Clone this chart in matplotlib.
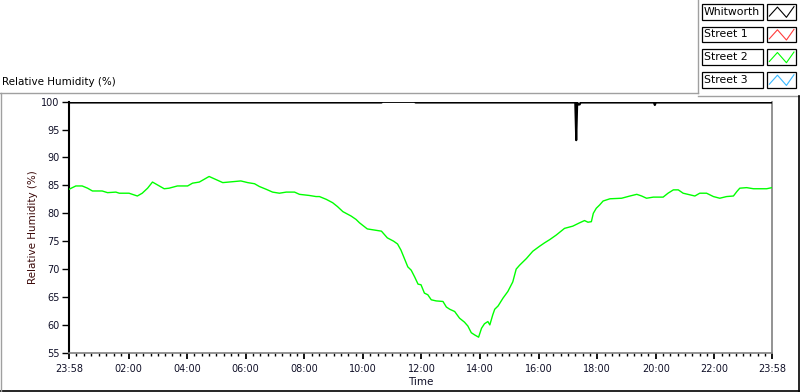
import matplotlib
matplotlib.use("Agg")
import matplotlib.pyplot as plt
from matplotlib.lines import Line2D
from matplotlib.patches import Rectangle
import numpy as np

plt.rcParams['font.family'] = ['DejaVu Sans']

# ---------------- data ----------------
# time axis: minutes elapsed since 23:58 (previous day)
tick_minutes = [0, 122, 242, 362, 482, 602, 722, 842, 962, 1082, 1202, 1322, 1440]
tick_labels = ["23:58", "02:00", "04:00", "06:00", "08:00", "10:00", "12:00",
               "14:00", "16:00", "18:00", "20:00", "22:00", "23:58"]

series_names = ["Whitworth", "Street 1", "Street 2", "Street 3"]
series_colors = ["#000000", "#ff3c3c", "#00ff00", "#38b8ff"]

whitworth_t = [0, 640, 642, 708, 710, 1037, 1039, 1041, 1043, 1046, 1048,
               1198, 1200, 1202, 1440]
whitworth_rh = [99.85, 99.85, 99.97, 99.97, 99.85, 99.85, 93.1, 99.85, 99.5, 99.5, 99.85,
                99.85, 99.4, 99.85, 99.85]

street1_t = []
street1_rh = []

street2_t = [0, 14, 27, 38, 48, 68, 79, 96, 103, 123, 140, 150, 161, 171, 181,
             195, 205, 222, 243, 253, 267, 277, 287, 297, 315, 328, 352, 366,
             380, 390, 404, 417, 431, 445, 462, 472, 492, 506, 513, 527, 540,
             550, 561, 578, 588, 595, 611, 626, 640, 652, 665, 673, 680, 687,
             694, 701, 708, 715, 721, 728, 735, 742, 752, 766, 773, 780, 790,
             800, 810, 817, 824, 831, 839, 845, 851, 858, 862, 868, 872, 879,
             889, 899, 909, 916, 923, 937, 950, 964, 974, 985, 998, 1015, 1032,
             1046, 1056, 1063, 1070, 1074, 1080, 1087, 1094, 1108, 1132, 1149,
             1163, 1173, 1183, 1197, 1217, 1227, 1238, 1248, 1258, 1272, 1282,
             1292, 1306, 1320, 1333, 1347, 1361, 1368, 1374, 1388, 1402, 1415,
             1429, 1440]
street2_rh = [84.3, 84.9, 84.9, 84.5, 84.0, 84.0, 83.7, 83.8, 83.6, 83.6, 83.1,
              83.6, 84.5, 85.6, 85.1, 84.4, 84.5, 84.9, 84.9, 85.4, 85.6, 86.1,
              86.6, 86.2, 85.5, 85.6, 85.8, 85.5, 85.3, 84.8, 84.3, 83.8, 83.6,
              83.8, 83.8, 83.4, 83.2, 83.0, 83.0, 82.5, 81.9, 81.2, 80.3, 79.5,
              78.9, 78.3, 77.2, 77.0, 76.8, 75.6, 75.0, 74.5, 73.4, 71.9, 70.4,
              69.8, 68.6, 67.3, 67.2, 65.7, 65.4, 64.5, 64.3, 64.2, 63.2, 62.8,
              62.4, 61.2, 60.5, 59.8, 58.6, 58.2, 57.8, 59.4, 60.2, 60.6, 60.0,
              61.8, 62.8, 63.4, 64.8, 66.0, 67.7, 70.0, 70.7, 71.9, 73.2, 74.1,
              74.7, 75.3, 76.1, 77.3, 77.7, 78.3, 78.7, 78.4, 78.5, 80.0, 80.9,
              81.5, 82.2, 82.6, 82.7, 83.1, 83.4, 83.1, 82.7, 82.9, 82.9, 83.6,
              84.2, 84.2, 83.6, 83.3, 83.1, 83.6, 83.6, 83.0, 82.7, 83.0, 83.1,
              83.9, 84.5, 84.6, 84.4, 84.4, 84.4, 84.6]

street3_t = []
street3_rh = []

y_ticks = [55, 60, 65, 70, 75, 80, 85, 90, 95, 100]

# ---------------- figure ----------------
W, H = 800, 392
fig = plt.figure(figsize=(W / 100, H / 100), dpi=100)
fig.patch.set_facecolor("white")


def fx(x):
    return x / W


def fy(y):
    return 1 - y / H


ax = fig.add_axes([fx(69), fy(352.8), fx(772) - fx(69), fy(101.7) - fy(352.8)])
ax.set_xlim(0, 1440)
ax.set_ylim(55, 100)

ax.plot(street2_t, street2_rh, color=series_colors[2], lw=1.0, zorder=3)
ax.plot(street1_t, street1_rh, color=series_colors[1], lw=1.0, zorder=3)
ax.plot(street3_t, street3_rh, color=series_colors[3], lw=1.0, zorder=3)
ax.plot(whitworth_t, whitworth_rh, color=series_colors[0], lw=1.5, zorder=4)

ax.set_xticks(tick_minutes)
ax.set_xticklabels(tick_labels)
minor = []
for a, b in zip(tick_minutes[:-1], tick_minutes[1:]):
    minor.extend(np.linspace(a, b, 9)[1:-1])
ax.set_xticks(minor, minor=True)
ax.set_yticks(y_ticks)
ax.set_yticklabels([str(v) for v in y_ticks])

ax.tick_params(axis='x', which='major', length=4, width=1.3, pad=4,
               labelsize=7, color='black', labelcolor='#101028')
ax.tick_params(axis='x', which='minor', length=2.5, width=1.0, color='black')
ax.tick_params(axis='y', length=5, width=1.0, pad=2, labelsize=7,
               color='black', labelcolor='#101028')

ax.spines['top'].set_visible(False)
ax.spines['left'].set_color('black')
ax.spines['left'].set_linewidth(1.5)
ax.spines['bottom'].set_color('#808080')
ax.spines['bottom'].set_linewidth(1.2)
ax.spines['right'].set_color('#808080')
ax.spines['right'].set_linewidth(1.2)

ax.set_xlabel("Time", fontsize=7.5, color='#101028', labelpad=2)
fig.text(fx(33), fy(227), "Relative Humidity (%)", rotation=90, fontsize=7.5,
         color='#3c0a0a', ha='center', va='center')
fig.text(fx(2), fy(82), "Relative Humidity (%)", fontsize=7.5, color='black',
         ha='left', va='center')

# ---------------- frame decoration ----------------
def fline(xs, ys, color, lw=1.0):
    fig.add_artist(Line2D([fx(x) for x in xs], [fy(y) for y in ys],
                          color=color, lw=lw, transform=fig.transFigure))

fline([0, 698], [92.5, 92.5], '#a0a0a0')
fline([698, 698], [0, 92.5], '#a0a0a0')
fline([698, 800], [95.5, 95.5], '#a0a0a0')
fline([799, 799], [95.5, 392], 'black', 1.2)
fline([0, 800], [391, 391], 'black', 1.2)
fline([0.5, 0.5], [92.5, 391], '#a0a0a0')

# ---------------- legend ----------------
for i, (name, col) in enumerate(zip(series_names, series_colors)):
    top = 4 + i * 22.7
    h = 15.5
    fig.add_artist(Rectangle((fx(702), fy(top + h)), fx(763) - fx(702), h / H,
                             facecolor='white', edgecolor='black', lw=0.9,
                             transform=fig.transFigure))
    fig.text(fx(704), fy(top + h / 2), name, fontsize=7.8, color='black',
             ha='left', va='center')
    fig.add_artist(Rectangle((fx(767), fy(top + h)), fx(796) - fx(767), h / H,
                             facecolor='white', edgecolor='black', lw=0.9,
                             transform=fig.transFigure))
    gx = [0.08, 0.36, 0.67, 0.93]
    gy = [0.22, 0.80, 0.14, 0.83]
    fig.add_artist(Line2D([fx(767 + g * 29) for g in gx],
                          [fy(top + h - v * h) for v in gy],
                          color=col, lw=0.8, transform=fig.transFigure))

fig.savefig("out.png", dpi=100, facecolor='white')
